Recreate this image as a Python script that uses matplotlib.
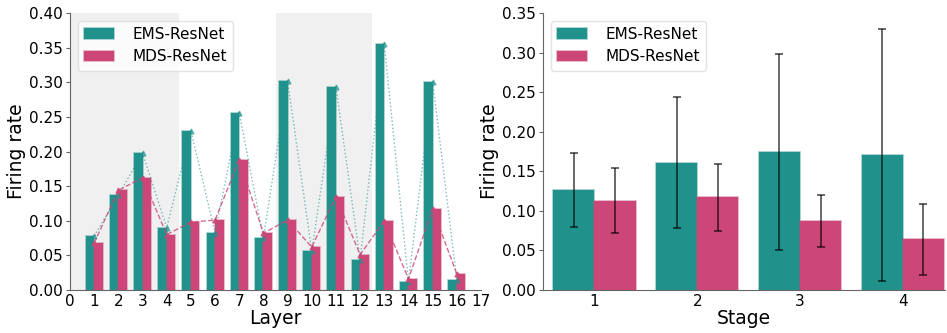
import matplotlib
matplotlib.use("Agg")
import matplotlib.pyplot as plt
import numpy as np

layers = list(range(1, 17))
ems_layer = [0.078, 0.137, 0.198, 0.090, 0.230, 0.083, 0.256, 0.075,
             0.302, 0.056, 0.293, 0.044, 0.355, 0.012, 0.301, 0.014]
mds_layer = [0.068, 0.144, 0.162, 0.080, 0.098, 0.101, 0.188, 0.082,
             0.101, 0.062, 0.135, 0.051, 0.100, 0.016, 0.117, 0.023]

stages = [1, 2, 3, 4]
ems_stage = [0.126, 0.161, 0.174, 0.171]
ems_stage_err = [0.047, 0.083, 0.124, 0.159]
mds_stage = [0.113, 0.117, 0.087, 0.064]
mds_stage_err = [0.041, 0.042, 0.033, 0.045]

labels = ["EMS-ResNet", "MDS-ResNet"]
teal = "#21918c"
pink = "#cc4778"

plt.rcParams['font.family'] = ['DejaVu Sans']

fig = plt.figure(figsize=(9.47, 3.33), dpi=100)
ax1 = fig.add_axes([70/947, 43/333, 411/947, 277/333])
ax2 = fig.add_axes([543/947, 43/333, 402/947, 277/333])

x = np.array(layers)
w = 0.35
ax1.axvspan(0, 4.5, color="#f0f0f0", zorder=0, lw=0)
ax1.axvspan(8.5, 12.5, color="#f0f0f0", zorder=0, lw=0)
ax1.bar(x, ems_layer, width=-w, align="edge", color=teal,
        edgecolor=matplotlib.colors.to_rgba(teal, 0.45), linewidth=1.2, label=labels[0], zorder=2)
ax1.bar(x, mds_layer, width=w, align="edge", color=pink,
        edgecolor=matplotlib.colors.to_rgba(pink, 0.45), linewidth=1.2, label=labels[1], zorder=2)
ax1.plot(x, ems_layer, ls=":", color=teal, alpha=0.6, lw=1.0, marker="^", ms=3.5, zorder=3)
ax1.plot(x, mds_layer, ls="--", color=pink, alpha=0.8, lw=1.0, marker="^", ms=3.5, zorder=3)
ax1.set_xlim(0, 17)
ax1.set_ylim(0, 0.40)
ax1.set_xticks(range(0, 18))
ax1.set_yticks(np.arange(0, 0.401, 0.05))
ax1.set_xlabel("Layer", fontsize=13.5, labelpad=0)
ax1.set_ylabel("Firing rate", fontsize=13.5, labelpad=2)

xs = np.array(stages)
bw = 0.4
ax2.bar(xs - bw/2, ems_stage, width=bw, color=teal,
        edgecolor=matplotlib.colors.to_rgba(teal, 0.45), linewidth=1.2, label=labels[0], zorder=2)
ax2.bar(xs + bw/2, mds_stage, width=bw, color=pink,
        edgecolor=matplotlib.colors.to_rgba(pink, 0.45), linewidth=1.2, label=labels[1], zorder=2)
ax2.errorbar(xs - bw/2, ems_stage, yerr=ems_stage_err, fmt="none", ecolor="black",
             alpha=0.75, capsize=3, elinewidth=1.1, capthick=1.1, zorder=3)
ax2.errorbar(xs + bw/2, mds_stage, yerr=mds_stage_err, fmt="none", ecolor="black",
             alpha=0.75, capsize=3, elinewidth=1.1, capthick=1.1, zorder=3)
ax2.set_xlim(0.5, 4.41)
ax2.set_ylim(0, 0.35)
ax2.set_xticks(stages)
ax2.set_yticks(np.arange(0, 0.351, 0.05))
ax2.set_xlabel("Stage", fontsize=13.5, labelpad=0)
ax2.set_ylabel("Firing rate", fontsize=13.5, labelpad=2)

for ax in (ax1, ax2):
    ax.spines["top"].set_visible(False)
    ax.spines["right"].set_visible(False)
    for s in ("left", "bottom"):
        ax.spines[s].set_color("#666666")
    ax.tick_params(axis="y", labelsize=11, colors="#666666", labelcolor="black", length=3, pad=2)
    ax.tick_params(axis="x", labelsize=11, colors="#666666", labelcolor="black", length=0, pad=3)
    ax.yaxis.set_major_formatter(matplotlib.ticker.FormatStrFormatter("%.2f"))
    leg = ax.legend(loc="upper left", fontsize=11, frameon=True, fancybox=True,
                    borderaxespad=0.5, handlelength=2.0, handletextpad=1.2)
    leg.get_frame().set_edgecolor("#dddddd")

fig.savefig("out.png", dpi=100)
